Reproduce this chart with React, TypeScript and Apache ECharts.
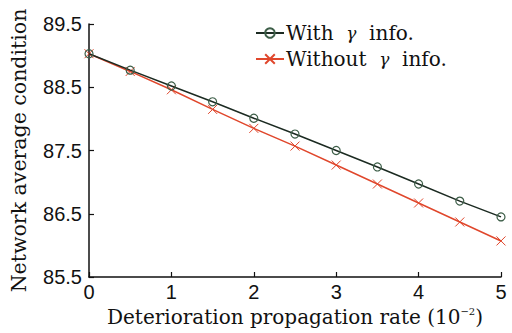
import React, { useEffect, useRef } from "react";
import * as echarts from "echarts";

const xValues = [0, 0.5, 1, 1.5, 2, 2.5, 3, 3.5, 4, 4.5, 5];
const withInfo = [89.03, 88.77, 88.52, 88.27, 88.01, 87.76, 87.5, 87.24, 86.97, 86.7, 86.45];
const withoutInfo = [89.03, 88.75, 88.46, 88.15, 87.85, 87.57, 87.27, 86.97, 86.67, 86.37, 86.07];
const yTicks = [85.5, 86.5, 87.5, 88.5, 89.5];
const xTicks = [0, 1, 2, 3, 4, 5];

const serif = "'DejaVu Serif', serif";
const sans = "'Liberation Sans', sans-serif";

export default function App() {
  const ref = useRef<HTMLDivElement>(null);
  useEffect(() => {
    if (!ref.current) return;
    const chart = echarts.init(ref.current, null, { renderer: "svg" });
    const pair = (ys: number[]) => xValues.map((x, i) => [x, ys[i]]);
    chart.setOption({
      animation: false,
      backgroundColor: "#fff",
      grid: { left: 89, right: 11, top: 24, bottom: 56 },
      legend: {
        left: 250,
        top: 18,
        orient: "vertical",
        itemWidth: 28,
        itemHeight: 12,
        itemGap: 6,
        textStyle: {
          fontFamily: serif,
          fontSize: 20,
          color: "#111",
          padding: [0, 0, 0, -3],
          rich: {
            g: { fontFamily: serif, fontStyle: "italic", fontSize: 17, color: "#111" },
          },
        },
        formatter: (name: string) =>
          name === "with" ? "With  {g|γ}  info." : "Without  {g|γ}  info.",
        data: ["with", "without"],
      },
      xAxis: {
        type: "value",
        min: 0,
        max: 5,
        interval: 1,
        name: "Deterioration propagation rate (10{s|−2})",
        nameLocation: "middle",
        nameGap: 28,
        nameTextStyle: {
          fontFamily: serif,
          fontSize: 20,
          color: "#111",
          rich: {
            s: { fontFamily: serif, fontSize: 10, color: "#111", padding: [0, 0, 10, 0] },
          },
        },
        axisLine: { show: true, lineStyle: { color: "#111", width: 1.5 } },
        axisTick: { show: true, inside: true, length: 5, lineStyle: { color: "#111", width: 1.2 } },
        axisLabel: {
          fontFamily: sans,
          fontSize: 20,
          color: "#111",
          margin: 5,
          formatter: (v: number) => (xTicks.includes(v) ? String(v) : ""),
        },
        splitLine: { show: false },
      },
      yAxis: {
        type: "value",
        min: 85.5,
        max: 89.5,
        interval: 1,
        name: "Network average condition",
        nameLocation: "middle",
        nameGap: 60,
        nameTextStyle: { fontFamily: serif, fontSize: 20.5, color: "#111" },
        axisLine: { show: true, lineStyle: { color: "#111", width: 1.5 } },
        axisTick: { show: true, inside: true, length: 5, lineStyle: { color: "#111", width: 1.2 } },
        axisLabel: {
          fontFamily: sans,
          fontSize: 20,
          color: "#111",
          margin: 7,
          formatter: (v: number) => (yTicks.includes(v) ? v.toFixed(1) : ""),
        },
        splitLine: { show: false },
      },
      series: [
        {
          name: "with",
          type: "line",
          data: pair(withInfo),
          symbol: "circle",
          symbolSize: 8,
          lineStyle: { color: "#1c2b22", width: 1.5 },
          itemStyle: { color: "transparent", borderColor: "#3d5e48", borderWidth: 1.2 },
          z: 3,
        },
        {
          name: "without",
          type: "line",
          data: pair(withoutInfo),
          symbol: "path://M0,0L10,10M10,0L0,10",
          symbolSize: 9,
          lineStyle: { color: "#e0472c", width: 1.5 },
          itemStyle: { color: "#e0472c", borderColor: "#e0472c", borderWidth: 1 },
          z: 2,
        },
      ],
    });
    return () => chart.dispose();
  }, []);
  return <div ref={ref} style={{ width: 512, height: 333, position: "absolute", left: 0, top: 0 }} />;
}
